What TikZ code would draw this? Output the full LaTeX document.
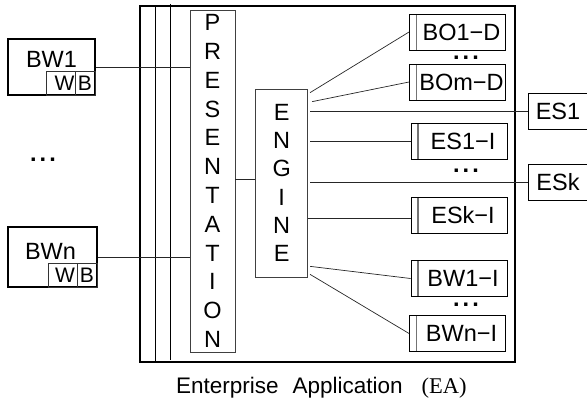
\documentclass[tikz,border=0pt]{standalone}
\usepackage{fontspec}
\setmainfont{Liberation Sans}
\newfontfamily\easerif{Liberation Serif}
\begin{document}
\begin{tikzpicture}[x=1pt,y=-1pt,
  lbl/.style={font=\fontsize{23.5}{27}\selectfont},
  outerbox/.style={draw=black, line width=1.3pt, inner sep=0pt},
  colbox/.style={draw=black!75, line width=0.7pt, align=center, inner sep=0pt},
  bwbox/.style={draw=black, line width=1.1pt, inner sep=0pt},
  wbbox/.style={draw=black!80, line width=0.8pt, inner sep=0pt, font=\fontsize{21}{24}\selectfont},
  comp/.style={draw=black, line width=0.9pt, inner sep=0pt, minimum width=96pt, minimum height=36pt, lbl,
    path picture={\draw[black!55, line width=1.3pt] ([xshift=7pt]path picture bounding box.north west) -- ([xshift=7pt]path picture bounding box.south west);}},
  esbox/.style={draw=black, line width=0.9pt, inner sep=0pt, minimum width=60pt, minimum height=36pt, lbl},
  conn/.style={draw=black!85, line width=0.7pt},
  sepline/.style={draw=black, line width=1.3pt},
  dots/.style={inner sep=0pt, font=\fontsize{23.5}{27}\selectfont\bfseries},
  captext/.style={inner sep=0pt, anchor=base west, font=\fontsize{22.5}{26}\selectfont}]
\useasboundingbox (0,0) rectangle (587,398);
\clip (0,0) rectangle (587,398);

% Enterprise application frame
\node[outerbox, minimum width=375pt, minimum height=356pt] (ea) at (327.5,184) {};
\draw[sepline] ([xshift=16pt]ea.north west) -- ([xshift=16pt]ea.south west);
\draw[sepline] ([xshift=31pt,yshift=1.5pt]ea.north west) -- ([xshift=31pt,yshift=2.5pt]ea.south west);

% presentation and engine columns
\node[colbox, minimum width=45pt, minimum height=342pt, font=\fontsize{23.5}{28.8}\selectfont] (pres) at (212.5,181)
  {P\\R\\E\\S\\E\\N\\T\\A\\T\\I\\O\\N};
\node[colbox, minimum width=52pt, minimum height=188pt, font=\fontsize{23.5}{28.3}\selectfont] (eng) at (281.7,183)
  {E\\N\\G\\I\\N\\E};

% browsers
\node[bwbox, minimum width=87pt, minimum height=56pt, label={[lbl, xshift=0pt, yshift=8pt]center:BW1}] (bw1) at (51.5,67) {};
\node[wbbox, minimum width=29pt, minimum height=24pt] (w1) at (60.5,83) {\hspace*{8pt}W};
\node[wbbox, minimum width=20pt, minimum height=24pt] (b1) at (85,83) {B};
\node[dots] (dl) at (43,160) {.\kern3pt.\kern3pt.};
\node[bwbox, minimum width=89pt, minimum height=60pt, label={[lbl, xshift=-2pt, yshift=6pt]center:BWn}] (bwn) at (52.5,257) {};
\node[wbbox, minimum width=29pt, minimum height=24pt] (wn) at (62.5,275) {\hspace*{5pt}W};
\node[wbbox, minimum width=20pt, minimum height=24pt] (bn) at (87,275) {B};

% components inside EA
\node[comp] (bo1) at (457.5,32) {\hspace*{8pt}BO1\textminus D};
\node[dots] (d1) at (466,58) {.\kern3pt.\kern3pt.};
\node[comp] (bom) at (457.5,82) {\hspace*{8pt}BOm\textminus D};
\node[comp] (es1i) at (459,141.5) {\hspace*{8pt}ES1\textminus I};
\node[dots] (d2) at (466,171) {.\kern3pt.\kern3pt.};
\node[comp] (eski) at (459,215) {\hspace*{8pt}ESk\textminus I};
\node[comp] (bw1i) at (459,278.5) {\hspace*{8pt}BW1\textminus I};
\node[dots] (d3) at (466,305) {.\kern3pt.\kern3pt.};
\node[comp] (bwni) at (457.5,333.5) {\hspace*{8pt}BWn\textminus I};

% external systems
\node[esbox] (es1) at (558,111) {ES1};
\node[esbox] (esk) at (558,182) {ESk};

% connectors
\draw[conn] (bw1.east) -- (bw1.east -| pres.west);
\draw[conn] (bwn.east) -- (bwn.east -| pres.west);
\draw[conn] ([yshift=4pt]eng.west) -- ([yshift=4pt]eng.west -| pres.east);
\draw[conn] ([xshift=2pt,yshift=-4pt]eng.north east) -- (bo1.west);
\draw[conn] ([xshift=4pt,yshift=-13pt]eng.north east) -- (bom.west);
\draw[conn] ([xshift=2pt]eng.east |- es1.west) -- (es1.west);
\draw[conn] ([xshift=2pt]eng.east |- es1i.west) -- (es1i.west);
\draw[conn] ([xshift=2pt]eng.east |- esk.west) -- (esk.west);
\draw[conn] ([yshift=-3pt]eski.west) coordinate (eskin) -- (eskin -| eng.east);
\draw[conn] ([xshift=2pt,yshift=11pt]eng.south east) -- (bw1i.west);
\draw[conn] ([xshift=2pt,yshift=3pt]eng.south east) -- (bwni.west);

% caption
\node[captext] (c1) at (176,393) {Enterprise};
\node[captext] (c2) at (292.5,393) {Application};
\node[captext, font=\fontsize{22.5}{26}\selectfont\easerif] (c3) at (421.5,393) {(EA)};
\end{tikzpicture}
\end{document}
